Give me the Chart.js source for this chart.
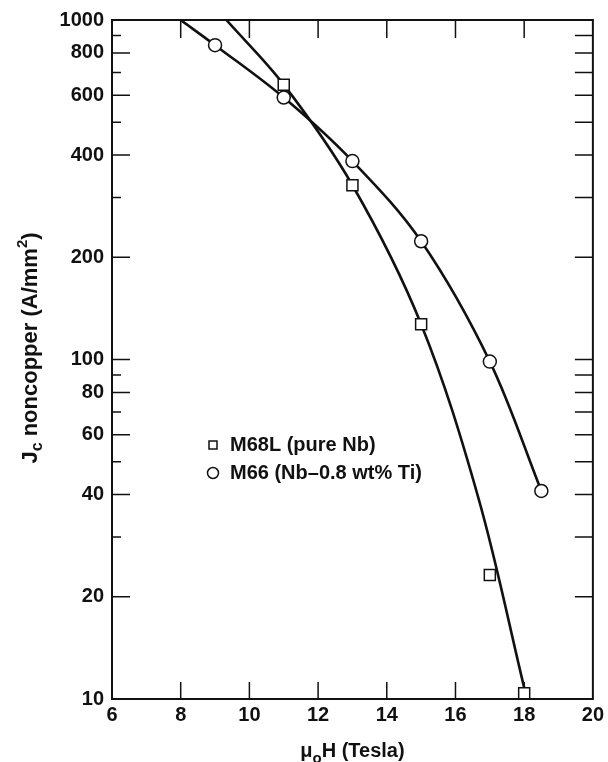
<!DOCTYPE html>
<html>
<head>
<meta charset="utf-8">
<script src="https://cdn.jsdelivr.net/npm/chart.js@4.4.0/dist/chart.umd.min.js"></script>
<style>
  html, body { margin: 0; padding: 0; background: #fff; }
  #wrap { width: 608px; height: 762px; position: relative; }
</style>
</head>
<body>
<div id="wrap"><canvas id="chart"></canvas></div>
<script>
// Jc noncopper vs field for two conductors, log y axis

// measured points
const m68lField = [11, 13, 15, 17, 18];
const m68lJc = [645, 326, 127, 23.2, 10.4];
const m66Field = [9, 11, 13, 15, 17, 18.5];
const m66Jc = [843, 591, 384, 223, 98.6, 41];

// hand-drawn curves through the points
const m68lCurveField = [9.33, 11, 13, 15, 16.67, 18];
const m68lCurveJc = [1000, 645, 326, 127, 39, 10.8];
const m66CurveField = [8, 9, 11, 13, 15, 17, 18.5];
const m66CurveJc = [1000, 843, 591, 384, 223, 98.6, 41];

// axes
const xTicks = [6, 8, 10, 12, 14, 16, 18, 20];
const yTicks = [10, 20, 40, 60, 80, 100, 200, 400, 600, 800, 1000];
const yMinorTicks = [30, 50, 70, 90, 300, 500, 700, 900];

const legendLabels = ['M68L (pure Nb)', 'M66 (Nb\u20130.8 wt% Ti)'];

const FONT = '"Liberation Sans", Arial, Helvetica, sans-serif';
const INK = '#111';

function toPoints(xs, ys) {
  return xs.map((x, i) => ({ x: x, y: ys[i] }));
}

// draws text pieces (with sub/superscripts) centred on cx
function drawRich(ctx, parts, cx, baseY) {
  let total = 0;
  parts.forEach(p => {
    ctx.font = 'bold ' + p.size + 'px ' + FONT;
    p.w = ctx.measureText(p.t).width;
    total += p.w;
  });
  let x = cx - total / 2;
  parts.forEach(p => {
    ctx.font = 'bold ' + p.size + 'px ' + FONT;
    ctx.fillText(p.t, x, baseY + (p.dy || 0));
    x += p.w;
  });
}

// frame, inward ticks, axis titles and legend
const decorations = {
  id: 'decorations',
  beforeDatasetsDraw(chart) {
    const ctx = chart.ctx;
    const a = chart.chartArea;
    const xs = chart.scales.x;
    const ys = chart.scales.y;
    ctx.save();
    ctx.strokeStyle = INK;
    ctx.lineWidth = 2;
    ctx.strokeRect(a.left, a.top, a.right - a.left, a.bottom - a.top);

    ctx.lineWidth = 1.5;
    ctx.beginPath();
    xTicks.slice(1, -1).forEach(v => {
      const px = xs.getPixelForValue(v);
      ctx.moveTo(px, a.bottom); ctx.lineTo(px, a.bottom - 17);
      ctx.moveTo(px, a.top); ctx.lineTo(px, a.top + 18);
    });
    yTicks.slice(1, -1).forEach(v => {
      const py = ys.getPixelForValue(v);
      ctx.moveTo(a.left, py); ctx.lineTo(a.left + 18, py);
      ctx.moveTo(a.right, py); ctx.lineTo(a.right - 18, py);
    });
    yMinorTicks.forEach(v => {
      const py = ys.getPixelForValue(v);
      ctx.moveTo(a.left, py); ctx.lineTo(a.left + 9, py);
      ctx.moveTo(a.right, py); ctx.lineTo(a.right - 18, py);
    });
    ctx.stroke();
    ctx.restore();
  },
  afterDraw(chart) {
    const ctx = chart.ctx;
    const a = chart.chartArea;
    ctx.save();
    ctx.fillStyle = INK;
    ctx.textBaseline = 'alphabetic';

    // x title: mu_o H (Tesla)
    drawRich(ctx, [
      { t: '\u03bc', size: 20 },
      { t: 'o', size: 15, dy: 6 },
      { t: 'H (Tesla)', size: 20 }
    ], (a.left + a.right) / 2, 757);

    // y title: J_c noncopper (A/mm^2)
    ctx.save();
    ctx.translate(37, 348);
    ctx.rotate(-Math.PI / 2);
    drawRich(ctx, [
      { t: 'J', size: 22 },
      { t: 'c', size: 16, dy: 5 },
      { t: ' noncopper (A/mm', size: 22 },
      { t: '2', size: 15, dy: -10 },
      { t: ')', size: 22 }
    ], 0, 0);
    ctx.restore();

    // legend
    ctx.strokeStyle = INK;
    ctx.lineWidth = 1.5;
    ctx.fillStyle = '#fff';
    ctx.fillRect(209, 441, 8, 8);
    ctx.strokeRect(209, 441, 8, 8);
    ctx.beginPath();
    ctx.arc(213, 473, 5.5, 0, Math.PI * 2);
    ctx.fill();
    ctx.stroke();
    ctx.fillStyle = INK;
    ctx.font = 'bold 20px ' + FONT;
    ctx.textBaseline = 'middle';
    ctx.fillText(legendLabels[0], 230, 445);
    ctx.fillText(legendLabels[1], 230, 473);
    ctx.restore();
  }
};

const tickFont = { family: FONT, size: 20, weight: 'bold' };

new Chart(document.getElementById('chart'), {
  type: 'scatter',
  data: {
    datasets: [
      {
        label: legendLabels[0],
        data: toPoints(m68lField, m68lJc),
        pointStyle: 'rect',
        pointRadius: 7.8,
        borderWidth: 1.5,
        borderColor: INK,
        backgroundColor: '#fff',
        showLine: false
      },
      {
        label: legendLabels[1],
        data: toPoints(m66Field, m66Jc),
        pointStyle: 'circle',
        pointRadius: 6.5,
        borderWidth: 1.5,
        borderColor: INK,
        backgroundColor: '#fff',
        showLine: false
      },
      {
        label: 'M68L curve',
        data: toPoints(m68lCurveField, m68lCurveJc),
        showLine: true,
        pointRadius: 0,
        borderWidth: 2.6,
        borderColor: INK,
        tension: 0.35
      },
      {
        label: 'M66 curve',
        data: toPoints(m66CurveField, m66CurveJc),
        showLine: true,
        pointRadius: 0,
        borderWidth: 2.6,
        borderColor: INK,
        tension: 0.35
      }
    ]
  },
  options: {
    responsive: true,
    maintainAspectRatio: false,
    animation: false,
    layout: { padding: { top: 15, right: 12, left: 0, bottom: 0 } },
    plugins: {
      legend: { display: false },
      tooltip: { enabled: false }
    },
    scales: {
      x: {
        type: 'linear',
        min: 6,
        max: 20,
        afterBuildTicks: s => { s.ticks = xTicks.map(v => ({ value: v })); },
        afterFit: s => { s.height = 63; },
        grid: { display: false, drawTicks: false },
        border: { display: false },
        ticks: { font: tickFont, color: INK, padding: 4, maxRotation: 0, autoSkip: false }
      },
      y: {
        type: 'logarithmic',
        min: 10,
        max: 1000,
        afterBuildTicks: s => { s.ticks = yTicks.map(v => ({ value: v })); },
        afterFit: s => { s.width = 112; },
        grid: { display: false, drawTicks: false },
        border: { display: false },
        ticks: {
          font: tickFont,
          color: INK,
          padding: 8,
          autoSkip: false,
          callback: v => String(v)
        }
      }
    }
  },
  plugins: [decorations]
});
</script>
</body>
</html>
